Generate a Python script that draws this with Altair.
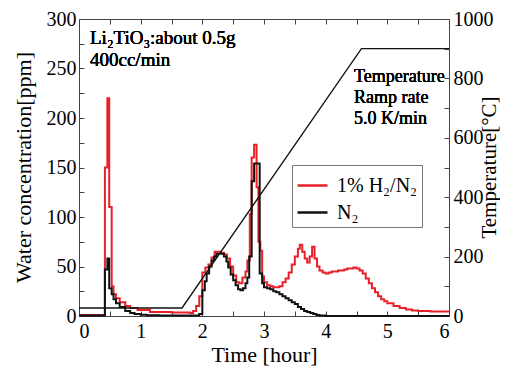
import altair as alt
import pandas as pd

# ---- data ----
S_H2 = "1% H₂/N₂"
S_N2 = "N₂"

red_t = [0.00, 0.42, 0.46, 0.49, 0.53, 0.56, 0.60, 0.66, 0.75, 0.83, 0.95, 1.15, 1.50, 1.80,
         1.85, 1.90, 1.95, 2.00, 2.05, 2.10, 2.15, 2.20, 2.25, 2.30, 2.35, 2.40, 2.45, 2.50,
         2.55, 2.60, 2.65, 2.70, 2.73, 2.77, 2.80, 2.84, 2.88, 2.91, 2.94, 2.97, 3.00, 3.05,
         3.10, 3.15, 3.20, 3.25, 3.30, 3.35, 3.40, 3.45, 3.50, 3.55, 3.58, 3.62, 3.66, 3.70,
         3.74, 3.78, 3.82, 3.86, 3.90, 3.95, 4.00, 4.05, 4.10, 4.20, 4.30, 4.35, 4.45, 4.50,
         4.55, 4.60, 4.65, 4.70, 4.75, 4.80, 4.85, 4.90, 4.95, 5.00, 5.10, 5.20, 5.30, 5.40,
         5.50, 5.70, 6.00]
red_v = [1, 150, 220, 110, 30, 22, 18, 14, 10, 8, 6, 4, 3.5, 3,
         5, 10, 20, 44, 49, 52, 59, 65, 65, 64, 62, 58, 50, 41,
         34, 33, 39, 45, 56, 103, 160, 173, 130, 75, 66, 40, 34, 31,
         30, 29, 29, 30, 34, 38, 44, 52, 60, 68, 72, 65, 58, 54,
         60, 70, 58, 50, 46, 44, 43, 44, 45, 46, 47, 48, 49, 48,
         46, 43, 38, 33, 28, 24, 20, 17, 15, 13, 10, 8, 6.5, 5.5,
         5, 4.5, 4.5]

blk_t = [0.00, 0.42, 0.46, 0.49, 0.53, 0.56, 0.60, 0.66, 0.75, 0.83, 0.90, 1.00, 1.10, 1.30,
         1.95, 2.00, 2.04, 2.07, 2.11, 2.15, 2.19, 2.23, 2.30, 2.35, 2.39, 2.42, 2.46, 2.50,
         2.54, 2.58, 2.62, 2.66, 2.70, 2.73, 2.76, 2.80, 2.84, 2.93, 2.97, 3.00, 3.05, 3.10,
         3.15, 3.20, 3.25, 3.30, 3.35, 3.40, 3.45, 3.50, 3.55, 3.60, 3.65, 3.70, 3.75, 3.80,
         3.85, 3.90, 4.00, 6.00]
blk_v = [0.5, 47, 58, 28, 22, 17, 13, 9, 5, 3, 2, 1.2, 0.8, 0.5,
         2, 26, 35, 43, 50, 56, 60, 63, 63, 60, 55, 49, 42, 36,
         31, 27, 26, 28, 33, 39, 60, 136, 154, 43, 33, 29, 28, 27,
         25, 24, 22, 20, 18, 16, 14, 12, 9, 7, 5, 4, 3, 2,
         1, 0.5, 0, 0]

temp_t = [0.0, 1.67, 4.58, 6.0]
temp_v = [27, 27, 900, 900]

x_labels = [0, 1, 2, 3, 4, 5, 6]
x_ticks = [0, 0.5, 1, 1.5, 2, 2.5, 3, 3.5, 4, 4.5, 5, 5.5, 6]
y_labels = [0, 50, 100, 150, 200, 250, 300]
y_ticks = [0, 25, 50, 75, 100, 125, 150, 175, 200, 225, 250, 275, 300]
t_labels = [0, 200, 400, 600, 800, 1000]
t_ticks = [0, 100, 200, 300, 400, 500, 600, 700, 800, 900, 1000]

water = pd.DataFrame({
    "t": red_t + blk_t,
    "ppm": red_v + blk_v,
    "gas": [S_H2] * len(red_t) + [S_N2] * len(blk_t),
})
temp = pd.DataFrame({"t": temp_t, "T": temp_v})

FONT = "Liberation Serif"
W, H = 370, 297

xs = alt.Scale(domain=[0, 6], nice=False, zero=False)
ys = alt.Scale(domain=[0, 300], nice=False)
ts = alt.Scale(domain=[0, 1000], nice=False)

lines = alt.Chart(water).mark_line(interpolate="step-after", strokeWidth=2).encode(
    x=alt.X("t:Q", scale=xs, axis=alt.Axis(orient="bottom", values=x_labels, ticks=False,
                                           domain=False, title="Time [hour]", labelPadding=5,
                                           format="d", titlePadding=3)),
    y=alt.Y("ppm:Q", scale=ys, axis=alt.Axis(orient="left", values=y_labels, ticks=False,
                                             domain=False, title="Water concentration[ppm]",
                                             format="d", labelPadding=3, titleX=-56, titleY=148,
                                             titleAlign="center", titleBaseline="middle")),
    color=alt.Color("gas:N", scale=alt.Scale(domain=[S_H2, S_N2], range=["#e8202a", "#111111"]),
                    legend=alt.Legend(orient="none", legendX=213, legendY=146, title=None,
                                      symbolType="stroke", symbolSize=900, symbolStrokeWidth=2.5,
                                      labelFont=FONT, labelFontSize=20, labelColor="black",
                                      labelFontWeight="normal",
                                      strokeColor="#777", padding=4, rowPadding=0,
                                      labelOffset=8, labelLimit=300)),
)

ticks_w = alt.Chart(water).mark_point(opacity=0).encode(
    x=alt.X("t:Q", scale=xs, axis=alt.Axis(orient="top", offset=-H, values=x_ticks, labels=False,
                                           domain=False, tickSize=5, title=None)),
    y=alt.Y("ppm:Q", scale=ys, axis=alt.Axis(orient="right", offset=-W, values=y_ticks,
                                             labels=False, domain=False, tickSize=5, title=None)),
)

temp_line = alt.Chart(temp).mark_line(strokeWidth=1.3, color="#111111").encode(
    x=alt.X("t:Q", scale=xs, axis=alt.Axis(orient="bottom", offset=-H, values=x_ticks,
                                           labels=False, domain=False, tickSize=5, title=None)),
    y=alt.Y("T:Q", scale=ts, axis=alt.Axis(orient="right", values=t_labels, ticks=False,
                                           domain=False, title="Temperature[°C]", labelPadding=4,
                                           format="d", titleFontSize=21,
                                           titleAngle=270, titleX=40, titleY=148,
                                           titleAlign="center", titleBaseline="middle")),
)

ticks_t = alt.Chart(temp).mark_point(opacity=0).encode(
    x=alt.X("t:Q", scale=xs, axis=None),
    y=alt.Y("T:Q", scale=ts, axis=alt.Axis(orient="left", offset=-W, values=t_ticks,
                                           labels=False, domain=False, tickSize=5, title=None)),
)

def note(txt, px, py, size):
    return alt.Chart(temp).mark_text(text=txt, font=FONT, fontSize=size, fontWeight="normal",
                                     align="left", baseline="alphabetic", color="black").encode(
        x=alt.value(px), y=alt.value(py))

notes = [
    note("Li₂TiO₃:about 0.5g", 11, 25, 19),
    note("400cc/min", 11, 47, 19),
    note("Temperature", 275, 63, 18),
    note("Ramp rate", 275, 84, 18),
    note("5.0 K/min", 275, 105, 18),
]

chart = alt.layer(lines, ticks_w, temp_line, ticks_t, *notes).resolve_scale(
    y="independent"
).resolve_axis(
    x="independent", y="independent"
).properties(
    width=W, height=H,
    padding={"left": 71, "top": 11, "right": 51, "bottom": 55},
    autosize=alt.AutoSizeParams(type="none"),
).configure_view(
    stroke="#444", strokeWidth=1
).configure_axis(
    grid=False, labelFont=FONT, labelFontSize=20, titleFont=FONT, titleFontSize=22,
    labelColor="black", titleColor="black", titleFontWeight="normal", tickColor="#444",
    labelFontWeight="normal",
)

chart.save("out.html", embed_options={"renderer": "svg", "actions": False})
